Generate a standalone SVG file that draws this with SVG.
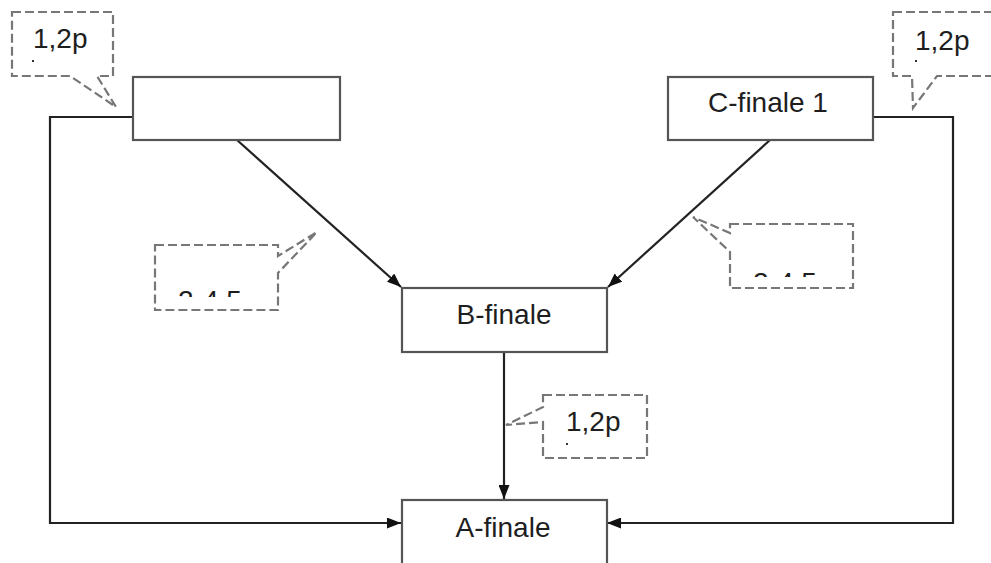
<svg xmlns="http://www.w3.org/2000/svg" width="991" height="563" viewBox="0 0 991 563">
<style>
.node{fill:#fff;stroke:#555;stroke-width:2.2}
.lbl{font-family:"Liberation Sans",Arial,sans-serif;font-size:28px;fill:#1e1e1e;text-anchor:middle}
.ct{font-family:"Liberation Sans",Arial,sans-serif;font-size:28px;fill:#1e1e1e}
.call{fill:#fff;stroke:#777;stroke-width:2.2;stroke-dasharray:9 4}
.edge{fill:none;stroke:#222;stroke-width:2.2}
.dot{fill:#333}
</style>
<defs>
<marker id="ah" viewBox="0 0 14 11" refX="14" refY="5.5" markerWidth="14" markerHeight="11" markerUnits="userSpaceOnUse" orient="auto">
<path d="M0,0 L14,5.5 L0,11 Z" fill="#111"/>
</marker>
<clipPath id="cl1"><rect x="156" y="246" width="121" height="51"/></clipPath>
<clipPath id="cl2"><rect x="731" y="225" width="121" height="52"/></clipPath>
</defs>
<rect width="991" height="563" fill="#fff"/>
<g id="connectors">
<path class="edge" d="M133,117 H50 V523 H401" marker-end="url(#ah)"/>
<path class="edge" d="M873,117 H953 V523 H607" marker-end="url(#ah)"/>
<path class="edge" d="M237,140 L401,287" marker-end="url(#ah)"/>
<path class="edge" d="M770,140 L608,287" marker-end="url(#ah)"/>
<path class="edge" d="M504,352 V499" marker-end="url(#ah)"/>
</g>
<g id="node-top-left"><rect class="node" x="133" y="77" width="207" height="63"/></g>
<g id="node-c-finale-1"><rect class="node" x="668" y="77" width="205" height="63"/><text class="lbl" x="768" y="112">C-finale 1</text></g>
<g id="node-b-finale"><rect class="node" x="402" y="288" width="205" height="64"/><text class="lbl" x="504" y="324">B-finale</text></g>
<g id="node-a-finale"><rect class="node" x="402" y="500" width="205" height="70"/><text class="lbl" x="503" y="537">A-finale</text></g>
<g id="callout-top-left">
<path class="call" d="M12,12 H113 V76 H97 L116,107 L70,76 H12 Z"/>
<text class="ct" x="33" y="48">1,2p</text><rect class="dot" x="32" y="60" width="2" height="2"/>
</g>
<g id="callout-top-right">
<path class="call" d="M893,12 H996 V76 H937 L913,108 L912,76 H893 Z"/>
<text class="ct" x="915" y="50">1,2p</text><rect class="dot" x="915" y="60" width="2" height="2"/>
</g>
<g id="callout-mid-left">
<path class="call" d="M155,245 H278 V256 L317,232 L278,273 V310 H155 Z"/>
<text class="ct" x="178" y="310" clip-path="url(#cl1)">2-4,5</text>
</g>
<g id="callout-mid-right">
<path class="call" d="M730,224 H853 V288 H730 V252 L693,217 L730,233 Z"/>
<text class="ct" x="753" y="292" clip-path="url(#cl2)">2-4,5</text>
</g>
<g id="callout-bottom">
<path class="call" d="M543,395 H647 V458 H543 V422 L506,425 L543,407 Z"/>
<text class="ct" x="566" y="431">1,2p</text><rect class="dot" x="566" y="443" width="2" height="2"/>
</g>
</svg>
